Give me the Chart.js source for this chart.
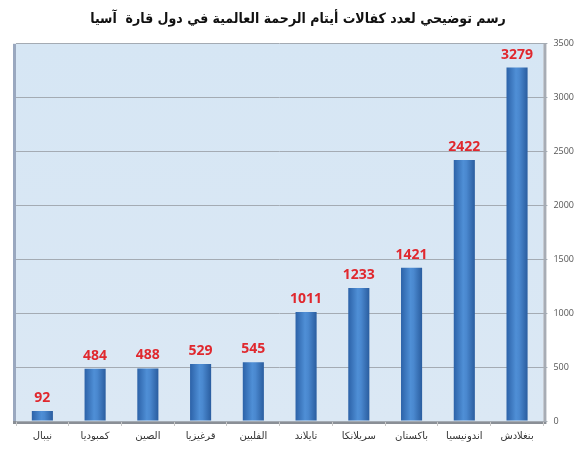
<!DOCTYPE html>
<html>
<head>
<meta charset="utf-8">
<script src="https://cdn.jsdelivr.net/npm/chart.js@4/dist/chart.umd.min.js"></script>
<style>
  html, body { margin: 0; padding: 0; background: #fff; }
  #wrap { width: 582px; height: 450px; }
</style>
</head>
<body>
<div id="wrap"><canvas id="chart"></canvas></div>
<script>
var titleText = 'رسم توضيحي لعدد كفالات أيتام الرحمة العالمية في دول قارة  آسيا';
var countries = ['نيبال', 'كمبوديا', 'الصين', 'قرغيزيا', 'الفلبين', 'تايلاند', 'سريلانكا', 'باكستان', 'اندونيسيا', 'بنغلادش'];
var sponsorships = [92, 484, 488, 529, 545, 1011, 1233, 1421, 2422, 3279];
var yMax = 3500;
var yStep = 500;

var catPct = 0.8, barPct = 0.5;

// light blue plot background with grey side walls and floor
var plotBackground = {
    id: 'plotBackground',
    beforeDraw: function(chart) {
        var a = chart.chartArea, c = chart.ctx;
        c.save();
        var g = c.createLinearGradient(0, a.top, 0, a.bottom);
        g.addColorStop(0, '#d6e6f4');
        g.addColorStop(1, '#dbe8f4');
        c.fillStyle = g;
        c.fillRect(a.left, a.top, a.right - a.left, a.bottom - a.top);
        // left wall
        c.fillStyle = '#9aa8bf';
        c.fillRect(a.left - 3, a.top, 3, a.bottom - a.top);
        // right wall
        c.fillStyle = '#a7acb4';
        c.fillRect(a.right, a.top, 3, a.bottom - a.top);
        // floor
        c.fillStyle = '#8a8f96';
        c.fillRect(a.left - 3, a.bottom, a.right - a.left + 6, 3);
        c.restore();
    }
};

var valueLabels = {
    id: 'valueLabels',
    afterDatasetsDraw: function(chart) {
        var c = chart.ctx;
        var meta = chart.getDatasetMeta(0);
        c.save();
        c.fillStyle = '#e0282e';
        c.font = 'bold 14px "Open Sans", "DejaVu Sans", sans-serif';
        c.textAlign = 'center';
        c.textBaseline = 'bottom';
        meta.data.forEach(function(bar, i) {
            c.fillText(String(sponsorships[i]), bar.x, bar.y - 6);
        });
        c.restore();
    }
};

function barGradient(context) {
    var chart = context.chart;
    var xs = chart.scales.x;
    if (!xs || !chart.chartArea) return '#3f7fc4';
    var x = xs.getPixelForValue(context.dataIndex);
    var w = (chart.chartArea.right - chart.chartArea.left) / countries.length * catPct * barPct;
    var g = chart.ctx.createLinearGradient(x - w / 2, 0, x + w / 2, 0);
    g.addColorStop(0, '#2c62a8');
    g.addColorStop(0.45, '#4f8fd6');
    g.addColorStop(0.6, '#4a88cf');
    g.addColorStop(1, '#2a5d9f');
    return g;
}

new Chart(document.getElementById('chart'), {
    type: 'bar',
    data: {
        labels: countries,
        datasets: [{
            data: sponsorships,
            backgroundColor: barGradient,
            borderWidth: 0,
            categoryPercentage: catPct,
            barPercentage: barPct
        }]
    },
    options: {
        responsive: true,
        maintainAspectRatio: false,
        animation: false,
        layout: { padding: { left: 16, right: 2, top: 0, bottom: 4 } },
        plugins: {
            legend: { display: false },
            tooltip: { enabled: false },
            title: {
                display: true,
                text: titleText,
                color: '#111',
                font: { size: 14, weight: 'bold', family: '"DejaVu Sans Condensed", "DejaVu Sans", sans-serif' },
                padding: { top: 11, bottom: 16 }
            }
        },
        scales: {
            x: {
                grid: { display: true, drawOnChartArea: false, drawTicks: true, tickLength: 5, color: '#c8c8c8', offset: true },
                border: { display: false },
                ticks: { color: '#333', font: { size: 10, family: '"DejaVu Sans", sans-serif' }, padding: 4, maxRotation: 0 }
            },
            y: {
                position: 'right',
                min: 0,
                max: yMax,
                ticks: {
                    stepSize: yStep,
                    color: '#555',
                    font: { size: 9, family: '"Open Sans", sans-serif' },
                    padding: 6,
                    callback: function(v) { return String(v); }
                },
                grid: { color: '#a4abb3', lineWidth: 1, tickLength: 4 },
                border: { display: false }
            }
        }
    },
    plugins: [plotBackground, valueLabels]
});
</script>
</body>
</html>
